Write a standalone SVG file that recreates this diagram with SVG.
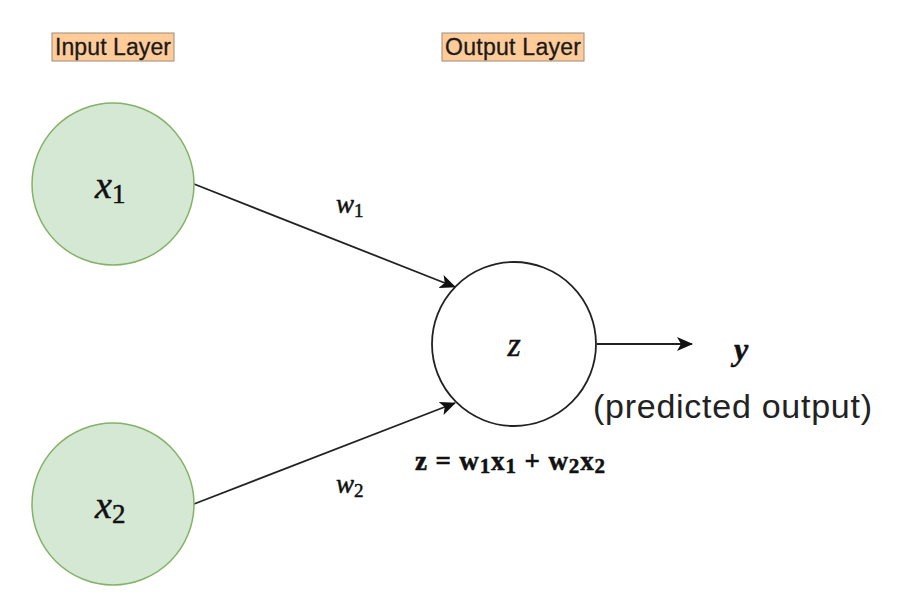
<svg xmlns="http://www.w3.org/2000/svg" width="905" height="615" viewBox="0 0 905 615">
<defs>
<style>
.lbl{fill:#ffcc99;stroke:#a08a78;stroke-width:1}
.lt{font-family:"Liberation Sans",Arial,sans-serif;font-size:23px;fill:#1a1a1a;stroke:#1a1a1a;stroke-width:0.3}
.in{fill:#d5e8d4;stroke:#82b366;stroke-width:1.5}
.out{fill:#ffffff;stroke:#222;stroke-width:1.8}
.m{font-family:"Liberation Serif","Times New Roman",serif;fill:#111;stroke:#111;stroke-width:0.5}
.e{stroke:#222;stroke-width:1.8;fill:none}
</style>
<marker id="ah" markerWidth="16" markerHeight="14" refX="15" refY="7" orient="auto" markerUnits="userSpaceOnUse">
<path d="M0,0 L16,7 L0,14 L4,7 Z" fill="#111"/>
</marker>
</defs>
<rect width="905" height="615" fill="#ffffff"/>
<g id="input-layer-label">
<rect class="lbl" x="52" y="33" width="122" height="28"/>
<text class="lt" x="113" y="55" text-anchor="middle" textLength="116">Input Layer</text>
</g>
<g id="output-layer-label">
<rect class="lbl" x="442" y="33" width="142" height="28"/>
<text class="lt" x="513" y="55" text-anchor="middle" textLength="136">Output Layer</text>
</g>
<g id="connectors">
<line class="e" x1="194" y1="184" x2="455" y2="287" marker-end="url(#ah)"/>
<line class="e" x1="194" y1="504" x2="455" y2="403" marker-end="url(#ah)"/>
<line class="e" x1="597" y1="344" x2="692" y2="344" marker-end="url(#ah)"/>
<text class="m" x="336" y="213" font-size="27" font-style="italic">w<tspan font-style="normal" font-size="19" dy="4">1</tspan></text>
<text class="m" x="336" y="493" font-size="27" font-style="italic">w<tspan font-style="normal" font-size="19" dy="4">2</tspan></text>
</g>
<g id="x1">
<circle class="in" cx="113" cy="184" r="81"/>
<text class="m" x="95" y="198" font-size="38" font-style="italic">x<tspan font-style="normal" font-size="27" dy="5">1</tspan></text>
</g>
<g id="x2">
<circle class="in" cx="113" cy="504" r="81"/>
<text class="m" x="95" y="518" font-size="38" font-style="italic">x<tspan font-style="normal" font-size="27" dy="5">2</tspan></text>
</g>
<g id="z">
<circle class="out" cx="514" cy="344" r="82"/>
<text class="m" x="514" y="356" font-size="34" font-style="italic" text-anchor="middle">z</text>
<text class="m" x="415" y="470" font-size="27" font-weight="bold" textLength="190">z = w<tspan font-size="21" dy="3">1</tspan><tspan dy="-3">x</tspan><tspan font-size="21" dy="3">1</tspan><tspan dy="-3"> + w</tspan><tspan font-size="21" dy="3">2</tspan><tspan dy="-3">x</tspan><tspan font-size="21" dy="3">2</tspan></text>
</g>
<g id="y">
<text class="m" x="741" y="360" font-size="32" font-style="italic" font-weight="bold" text-anchor="middle">y</text>
<text x="593" y="418" font-family="'Liberation Sans',Arial,sans-serif" font-size="34" fill="#222" textLength="279">(predicted output)</text>
</g>
</svg>
